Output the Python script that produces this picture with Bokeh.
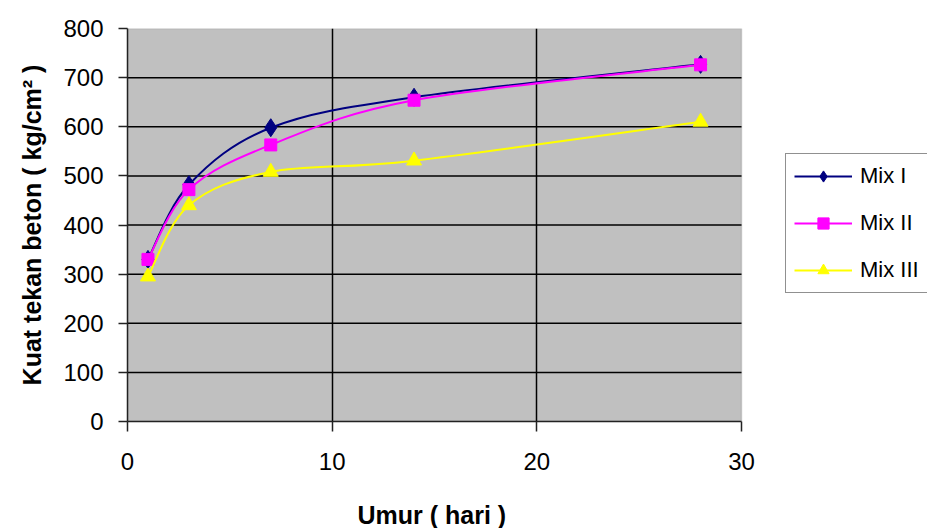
from bokeh.plotting import figure
from bokeh.models import (Legend, LegendItem, ColumnDataSource, FixedTicker, Range1d,
                          BoxAnnotation, Title)
from bokeh.embed import file_html
from bokeh.resources import INLINE

# ---- data ----
days = [1, 3, 7, 14, 28]
mix1 = [330, 482, 598, 660, 727]
mix2 = [330, 472, 563, 654, 726]
mix3 = [295, 440, 508, 531, 610]
series_names = ["Mix I", "Mix II", "Mix III"]
x_ticks = [0, 10, 20, 30]
y_ticks = [0, 100, 200, 300, 400, 500, 600, 700, 800]

colors = ["#000080", "#FF00FF", "#FFFF00"]
markers = ["diamond", "square", "triangle"]
msizes = [18, 12, 15]

FONT = "Liberation Sans"

# layout: plot area is 614 px wide inside an 800 px frame that also hosts the legend
PLOT_PX = 614
FRAME_PX = 800
x_end = x_ticks[-1] * FRAME_PX / PLOT_PX


def smooth_segments(xs, ys):
    """Catmull-Rom style Bezier segments through the data points (like Excel's smoothed line)."""
    n = len(xs)
    out = dict(x0=[], y0=[], x1=[], y1=[], cx0=[], cy0=[], cx1=[], cy1=[])
    for i in range(n - 1):
        im1 = max(i - 1, 0)
        ip2 = min(i + 2, n - 1)
        out["x0"].append(xs[i]); out["y0"].append(ys[i])
        out["x1"].append(xs[i + 1]); out["y1"].append(ys[i + 1])
        out["cx0"].append(xs[i] + (xs[i + 1] - xs[im1]) / 6.0)
        out["cy0"].append(ys[i] + (ys[i + 1] - ys[im1]) / 6.0)
        out["cx1"].append(xs[i + 1] - (xs[ip2] - xs[i]) / 6.0)
        out["cy1"].append(ys[i + 1] - (ys[ip2] - ys[i]) / 6.0)
    return out


p = figure(width=927, height=528, output_backend="svg", toolbar_location=None,
           x_range=Range1d(x_ticks[0], x_end), y_range=Range1d(y_ticks[0], y_ticks[-1]),
           min_border_left=127, min_border_right=0, min_border_top=28, min_border_bottom=105)

p.background_fill_color = "white"
p.border_fill_color = "white"
p.outline_line_color = None

# grey plot area (0..30 x 0..800)
p.add_layout(BoxAnnotation(left=x_ticks[0], right=x_ticks[-1], bottom=y_ticks[0], top=y_ticks[-1],
                           fill_color="#C0C0C0", fill_alpha=1.0, line_color="#808080",
                           line_width=1.5, level="image"))

p.xaxis.ticker = FixedTicker(ticks=x_ticks)
p.yaxis.ticker = FixedTicker(ticks=y_ticks)
p.xaxis.bounds = (x_ticks[0], x_ticks[-1])
p.xgrid.ticker = FixedTicker(ticks=x_ticks[1:-1])
p.xgrid.grid_line_color = "black"
p.xgrid.grid_line_width = 1.5
p.ygrid.visible = False

# horizontal grid lines limited to the plot area
inner_y = y_ticks[1:-1]
p.segment(x0=[x_ticks[0]] * len(inner_y), x1=[x_ticks[-1]] * len(inner_y),
          y0=inner_y, y1=inner_y, line_color="black", line_width=1.5)

for ax in (p.xaxis, p.yaxis):
    ax.axis_line_color = "#222222"
    ax.axis_line_width = 1.5
    ax.major_tick_line_color = "#222222"
    ax.major_tick_line_width = 1.5
    ax.minor_tick_line_color = None
    ax.major_tick_in = 0
    ax.major_label_text_font = FONT
    ax.major_label_text_font_size = "24px"
    ax.major_label_text_color = "black"
    ax.axis_label_text_font = FONT
    ax.axis_label_text_font_size = "25px"
    ax.axis_label_text_font_style = "bold"
    ax.axis_label_text_color = "black"

p.xaxis.major_tick_out = 10
p.yaxis.major_tick_out = 9
p.xaxis.major_label_standoff = 21
p.yaxis.major_label_standoff = 15
p.yaxis.axis_label = "Kuat tekan beton ( kg/cm\u00b2 )"
p.yaxis.axis_label_standoff = 14

# blank spacer label on the x axis pushes the title below it further down
p.xaxis.axis_label = "\u00a0"
p.xaxis.axis_label_text_font_size = "21px"
p.xaxis.axis_label_standoff = 0

# x-axis title placed under the middle of the grey plot area (not the whole frame)
x_title = Title(text="Umur ( hari )", align="left", offset=230, vertical_align="bottom",
                text_font=FONT, text_font_size="25px", text_font_style="bold",
                text_color="black", standoff=0)
p.add_layout(x_title, "below")

items = []
for name, ys, c, m, s in zip(series_names, [mix1, mix2, mix3], colors, markers, msizes):
    seg = ColumnDataSource(smooth_segments(days, ys))
    r_line = p.bezier(x0="x0", y0="y0", x1="x1", y1="y1", cx0="cx0", cy0="cy0",
                      cx1="cx1", cy1="cy1", source=seg, line_color=c, line_width=2)
    r_pts = p.scatter(days, ys, marker=m, size=s, fill_color=c, line_color=c)
    items.append(LegendItem(label=name, renderers=[r_line, r_pts]))

legend = Legend(items=items, location=(658, 128))
legend.label_text_font = FONT
legend.label_text_font_size = "22px"
legend.label_text_color = "black"
legend.glyph_width = 58
legend.glyph_height = 28
legend.label_standoff = 8
legend.spacing = 19
legend.padding = 8
legend.margin = 0
legend.border_line_color = "#222222"
legend.border_line_width = 1.5
legend.background_fill_color = "white"
legend.background_fill_alpha = 1.0
p.add_layout(legend, "center")

open("out.html", "w").write(file_html(p, INLINE))
